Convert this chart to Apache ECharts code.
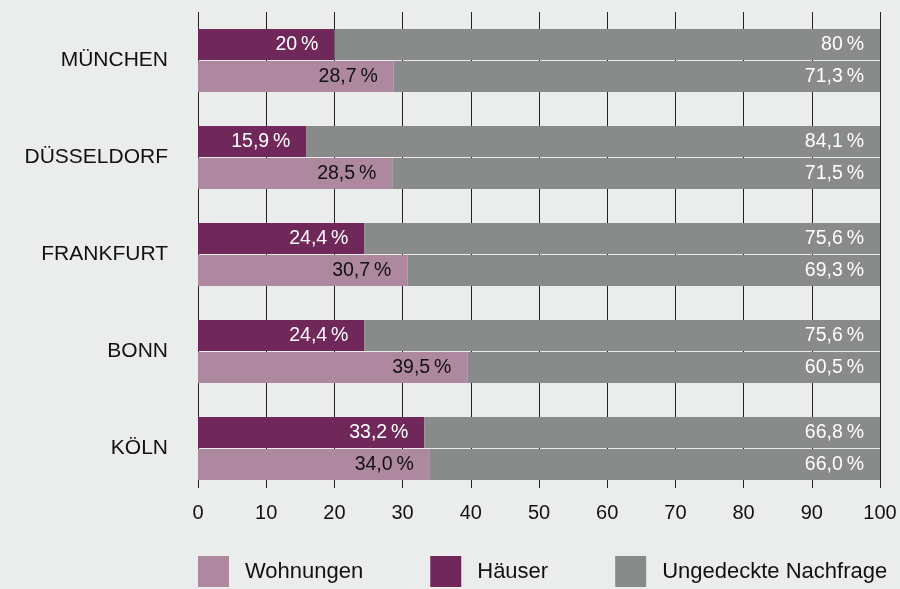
<!DOCTYPE html>
<html>
<head>
<meta charset="utf-8">
<script src="https://cdn.jsdelivr.net/npm/echarts@6/dist/echarts.min.js"></script>
<style>
  html, body { margin: 0; padding: 0; background: #ebecec; }
  #chart { width: 900px; height: 589px; }
</style>
</head>
<body>
<div id="chart"></div>
<script>
// Categories (top to bottom)
const cities = ['MÜNCHEN', 'DÜSSELDORF', 'FRANKFURT', 'BONN', 'KÖLN'];
// Values as printed (German decimal comma)
const haeuser        = ['20',   '15,9', '24,4', '24,4', '33,2'];
const ungedecktH     = ['80',   '84,1', '75,6', '75,6', '66,8'];
const wohnungen      = ['28,7', '28,5', '30,7', '39,5', '34,0'];
const ungedecktW     = ['71,3', '71,5', '69,3', '60,5', '66,0'];
const xTicks = [0, 10, 20, 30, 40, 50, 60, 70, 80, 90, 100];

const toNum = s => parseFloat(s.replace(',', '.'));
const mk = arr => arr.map(s => ({ value: toNum(s), label: s }));

const FONT = 'Liberation Sans, Arial, Helvetica, sans-serif';
const C_HAUS = '#70285a';
const C_WOHN = '#ae889e';
const C_GRAY = '#898a8a';

function barLabel(color) {
  return {
    show: true,
    position: 'insideRight',
    distance: 16,
    color: color,
    fontFamily: FONT,
    fontSize: 19.5,
    formatter: p => p.data.label + '\u2009%'
  };
}

const chart = echarts.init(document.getElementById('chart'));
chart.setOption({
  backgroundColor: '#ebecec',
  animation: false,
  grid: { left: 198, right: 20, top: 12, bottom: 92 },
  legend: {
    left: 198,
    top: 556,
    padding: 0,
    itemWidth: 31,
    itemHeight: 31,
    itemGap: 67,
    icon: 'rect',
    data: ['Wohnungen', 'Häuser', 'Ungedeckte Nachfrage'],
    textStyle: { fontFamily: FONT, fontSize: 22, color: '#111', padding: [0, 0, 0, 11] }
  },
  xAxis: [
    {
      type: 'value', position: 'top', min: 0, max: 100, interval: 10,
      axisLine: { show: false },
      axisTick: { show: true, inside: true, length: 476, lineStyle: { color: '#222', width: 1 } },
      axisLabel: { show: false },
      splitLine: { show: false }
    },
    {
      type: 'value', position: 'bottom', min: 0, max: 100, interval: 10,
      axisLine: { show: false },
      axisTick: { show: false },
      splitLine: { show: false },
      axisLabel: {
        margin: 6, fontFamily: FONT, fontSize: 20, color: '#111',
        formatter: v => (xTicks.indexOf(v) >= 0 ? String(v) : '')
      }
    }
  ],
  yAxis: {
    type: 'category',
    inverse: true,
    data: cities,
    axisLine: { show: false },
    axisTick: { show: false },
    splitLine: { show: false },
    axisLabel: {
      margin: 30, fontFamily: FONT, fontSize: 21, color: '#111',
      padding: [0, 0, 12, 0]
    }
  },
  series: [
    {
      name: 'Häuser', type: 'bar', stack: 'h', xAxisIndex: 0,
      barWidth: 31, barGap: '4%',
      itemStyle: { color: C_HAUS },
      label: barLabel('#ffffff'),
      data: mk(haeuser)
    },
    {
      name: 'Ungedeckte Nachfrage', type: 'bar', stack: 'h', xAxisIndex: 0,
      barWidth: 31, barGap: '4%',
      itemStyle: { color: C_GRAY },
      label: barLabel('#ffffff'),
      data: mk(ungedecktH)
    },
    {
      name: 'Wohnungen', type: 'bar', stack: 'w', xAxisIndex: 0,
      barWidth: 31, barGap: '4%',
      itemStyle: { color: C_WOHN },
      label: barLabel('#111111'),
      data: mk(wohnungen)
    },
    {
      name: 'Ungedeckte Nachfrage', type: 'bar', stack: 'w', xAxisIndex: 0,
      barWidth: 31, barGap: '4%',
      itemStyle: { color: C_GRAY },
      label: barLabel('#ffffff'),
      data: mk(ungedecktW)
    }
  ]
});
</script>
</body>
</html>
